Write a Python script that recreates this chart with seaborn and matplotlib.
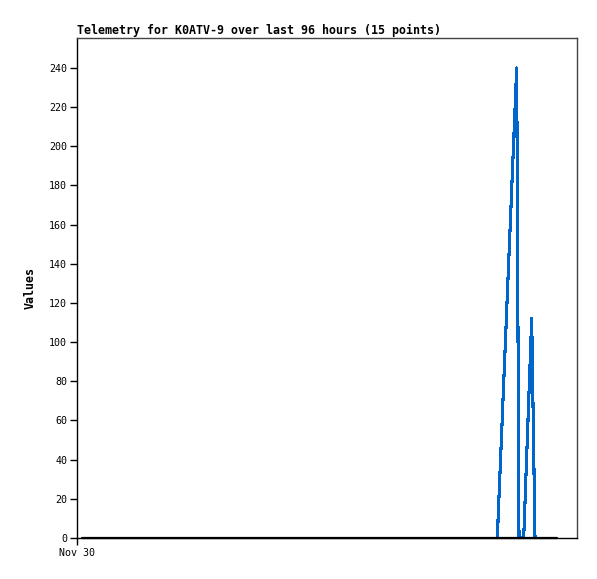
import matplotlib
matplotlib.use("Agg")
import matplotlib.pyplot as plt
import seaborn as sns
import pandas as pd

# hours since Nov 30 00:00
blue_hours = [84.06, 87.94, 88.4, 89.34, 90.94, 91.6]
blue_values = [0, 240, 0, 0, 112, 0]
black_hours = [1.0, 96.0]
black_values = [0, 0]
y_ticks = list(range(0, 241, 20))
x_tick_hours = [0]
x_tick_labels = ["Nov 30"]
title = "Telemetry for K0ATV-9 over last 96 hours (15 points)"
y_label = "Values"

sns.set_theme(style="white")
plt.rcParams["font.family"] = ["DejaVu Sans Mono"]
plt.rcParams["text.color"] = "black"
plt.rcParams["axes.labelcolor"] = "black"
plt.rcParams["xtick.color"] = "black"
plt.rcParams["ytick.color"] = "black"

blue_df = pd.DataFrame({"hour": blue_hours, "value": blue_values})
black_df = pd.DataFrame({"hour": black_hours, "value": black_values})

fig = plt.figure(figsize=(5.97, 5.79), dpi=100)
ax = fig.add_axes([77 / 597, 41 / 579, 500 / 597, 500 / 579])

sns.lineplot(data=blue_df, x="hour", y="value", color="#0066CC", linewidth=1.5,
             ax=ax, zorder=3, antialiased=False, sort=False)
sns.lineplot(data=black_df, x="hour", y="value", color="black", linewidth=1.6,
             ax=ax, zorder=4, clip_on=False)

ax.set_xlim(0, 100)
ax.set_ylim(0, 255.3)
ax.set_yticks(y_ticks)
ax.set_yticklabels([str(v) for v in y_ticks], fontsize=7.2, color="black")
ax.set_xticks(x_tick_hours)
ax.set_xticklabels(x_tick_labels, fontsize=7.2, color="black")
ax.tick_params(axis="both", direction="out", length=5, width=1, color="black",
               pad=2, left=True, bottom=True)
ax.set_xlabel("")
ax.set_ylabel(y_label, fontsize=8.4, fontweight="bold", color="black")
ax.yaxis.set_label_coords(-0.08, 0.5)
ax.set_title(title, loc="left", fontsize=8.4, fontweight="bold", pad=3,
             color="black")

for side in ["left", "bottom"]:
    ax.spines[side].set_color("black")
    ax.spines[side].set_linewidth(1)
for side in ["top", "right"]:
    ax.spines[side].set_color("#444444")
    ax.spines[side].set_linewidth(1)
ax.grid(False)
ax.set_facecolor("white")

fig.savefig("out.png", dpi=100)
